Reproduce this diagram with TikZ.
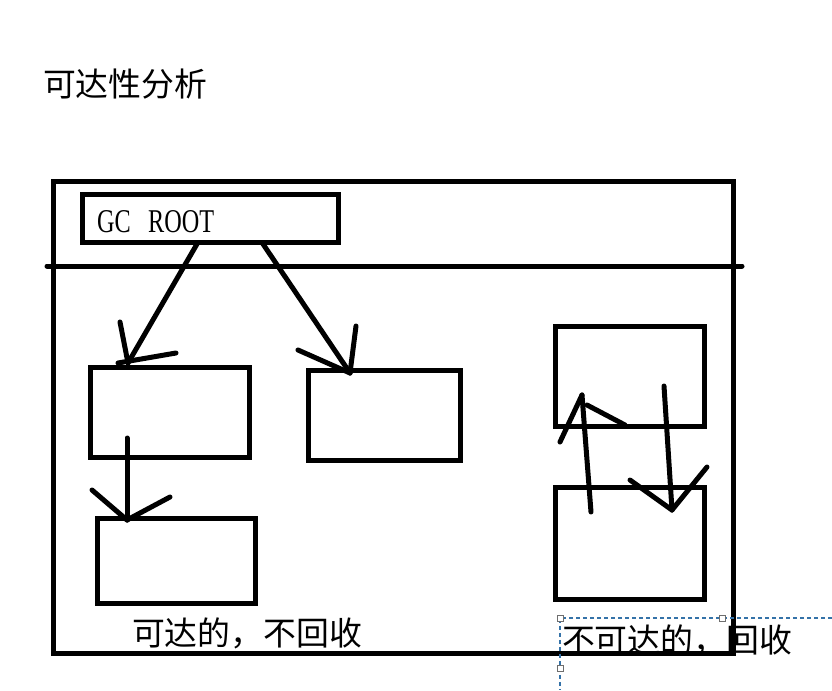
\documentclass[tikz,border=0pt]{standalone}
\usepackage{fontspec}
\setmainfont{Noto Sans CJK SC}
\newfontfamily\rootfont{Liberation Serif}
\definecolor{selblue}{RGB}{52,114,168}
\definecolor{handlegray}{RGB}{110,110,110}
\begin{document}
\begin{tikzpicture}
[x=0.02cm,y=-0.02cm,line width=0.1cm,line cap=round,
every node/.style={inner sep=0pt,outer sep=0pt},
objbox/.style={draw,rectangle,line cap=rect},
label/.style={anchor=base west,font=\fontsize{18.7}{20}\selectfont},
stroke/.style={line width=0.1cm,line cap=round},
selline/.style={draw=selblue,line width=0.025cm,dash pattern=on 0.08cm off 0.06cm,line cap=butt},
handle/.style={draw=handlegray,fill=white,line width=0.02cm,minimum size=0.12cm}]
\useasboundingbox (0,0) rectangle (832,690);
\node[label] (title) at (43,96) {可达性分析};
\node[label] (reach) at (132,645) {可达的，不回收};
\node[label] (unreach) at (562,652) {不可达的，回收};
\node[objbox,minimum width=13.6cm,minimum height=9.44cm] (heap) at (393.5,417.5) {};
\coordinate (divl) at (47,266);
\coordinate (divr) at (742,266);
\draw (divl) -- (divr);
\node[objbox,minimum width=5.13cm,minimum height=0.97cm] (root) at (210.75,218.25) {};
\node[anchor=base west,font=\rootfont\fontsize{18.9}{20}\selectfont] (rootname) at (97,232)
  {\scalebox{0.73}[1]{GC\hspace{0.72em}ROOT}};
\node[objbox,minimum width=3.17cm,minimum height=1.8cm] (a) at (170,412.5) {};
\node[objbox,minimum width=3.05cm,minimum height=1.82cm] (b) at (384.75,415.5) {};
\node[objbox,minimum width=3.16cm,minimum height=1.69cm] (c) at (176.5,561) {};
\node[objbox,minimum width=2.97cm,minimum height=2.01cm] (d) at (630,376.7) {};
\node[objbox,minimum width=2.97cm,minimum height=2.24cm] (e) at (630.2,543.5) {};
% hand drawn arrows
\coordinate (ra1) at (197,244);
\coordinate (ra2) at (128,363);
\coordinate (ra3) at (120,322);
\coordinate (ra4) at (176,353);
\coordinate (ra5) at (118,363);
\draw[stroke] (ra1) -- (ra2);
\draw[stroke] (ra3) -- (ra2);
\draw[stroke] (ra4) -- (ra5);
\coordinate (rb1) at (263,244);
\coordinate (rb2) at (350,373);
\coordinate (rb3) at (356,326);
\coordinate (rb4) at (298,350);
\draw[stroke] (rb1) -- (rb2);
\draw[stroke] (rb3) -- (rb2);
\draw[stroke] (rb4) -- (rb2);
\coordinate (ac1) at (127,438);
\coordinate (ac2) at (127,520);
\coordinate (ac3) at (92,490);
\coordinate (ac4) at (170,497);
\draw[stroke] (ac1) -- (ac2);
\draw[stroke] (ac3) -- (ac2);
\draw[stroke] (ac4) -- (ac2);
\coordinate (ed1) at (591,512);
\coordinate (ed2) at (582,395);
\coordinate (ed3) at (560,442);
\coordinate (ed4) at (587,405);
\coordinate (ed5) at (625,425);
\draw[stroke] (ed1) -- (ed2);
\draw[stroke] (ed3) -- (ed2);
\draw[stroke] (ed4) -- (ed5);
\coordinate (de1) at (664,386);
\coordinate (de2) at (672,510);
\coordinate (de3) at (630,480);
\coordinate (de4) at (707,467);
\draw[stroke] (de1) -- (de2);
\draw[stroke] (de3) -- (de2);
\draw[stroke] (de4) -- (de2);
% text box selection
\coordinate (selc) at (560,618);
\coordinate (selr) at (832,618);
\coordinate (selb) at (560,690);
\draw[selline] (selr) -- (selc) -- (selb);
\node[handle] (h1) at (selc) {};
\node[handle] (h2) at (722,618) {};
\node[handle] (h3) at (560,668) {};
\end{tikzpicture}
\end{document}
